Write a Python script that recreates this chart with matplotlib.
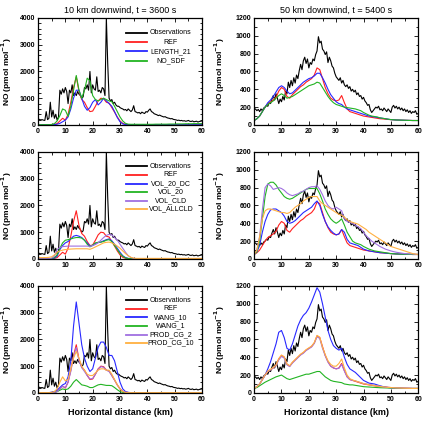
import numpy as np
from matplotlib import pyplot as plt
from matplotlib.ticker import MultipleLocator

plt.rcParams['font.family'] = ['Liberation Sans', 'DejaVu Sans']

# eje x de las observaciones (cada 0.5 km) y de los modelos (cada 1 km)
x_obs = np.arange(0, 60.5, 0.5)
x_mod = np.arange(0, 61)

obs_10km = [
    200, 210, 190, 200, 180, 170, 500, 200, 250, 850,
    300, 550, 250, 400, 180, 300, 1300, 1150, 1350, 1200,
    1400, 1250, 800, 1300, 1200, 1500, 1100, 1200, 1100, 1250,
    1150, 1100, 1000, 1050, 1400, 1350, 1500, 1300, 2000, 1200,
    1500, 1350, 1300, 1800, 1250, 1300, 1200, 1400, 1350, 1100,
    4000, 2300, 1000, 900, 950, 800, 850, 750, 700, 700,
    650, 620, 600, 560, 580, 530, 600, 550, 500, 560,
    720, 500, 480, 450, 470, 420, 480, 450, 430, 500,
    480, 550, 600, 500, 470, 420, 400, 380, 350, 370,
    340, 320, 300, 310, 280, 260, 250, 230, 240, 210,
    200, 190, 170, 180, 160, 170, 150, 160, 140, 150,
    170, 140, 130, 150, 120, 130, 140, 110, 130, 140,
    150]

obs_50km = [
    170, 180, 160, 175, 150, 180, 160, 190, 200, 220,
    210, 250, 240, 290, 330, 280, 350, 300, 240, 290,
    260, 320, 280, 380, 350, 480, 420, 500, 440, 530,
    470, 560, 520, 610, 680, 620, 720, 760, 690, 740,
    640, 700, 680, 740, 720, 790, 830, 990, 920, 940,
    850, 830, 790, 820, 700, 760, 720, 660, 640, 580,
    540, 520, 500, 530, 470, 500, 450, 430, 450, 410,
    430, 380, 400, 370, 390, 340, 360, 320, 330, 290,
    310, 270, 250, 220, 230, 170, 140, 160, 180, 200,
    190, 210, 170, 180, 160, 190, 170, 150, 180, 160,
    140, 200, 220, 190, 210, 180, 200, 170, 190, 160,
    180, 150, 170, 140, 160, 130, 150, 140, 160, 120,
    130]

# ---- 10 km, fila 1
ref_10 = [
    10, 10, 10, 10, 10, 15, 20, 50, 150, 250,
    180, 400, 850, 1400, 1800, 1250, 950, 850, 650, 500,
    520, 700, 900, 1000, 980, 850, 820, 650, 480, 300,
    150, 60, 25, 15, 10, 10, 10, 10, 10, 10,
    10, 10, 10, 10, 10, 10, 10, 10, 10, 10,
    10, 10, 10, 10, 10, 10, 10, 10, 10, 10, 10]
length21_10 = [
    10, 10, 10, 10, 10, 10, 15, 30, 60, 120,
    180, 300, 600, 1000, 1300, 1300, 1000, 700, 550, 650,
    850, 950, 750, 850, 1000, 900, 800, 700, 500, 280,
    120, 40, 15, 10, 10, 10, 10, 10, 10, 10,
    10, 10, 10, 10, 10, 10, 10, 10, 10, 10,
    10, 10, 10, 10, 10, 10, 10, 10, 10, 10, 10]
nosdf_10 = [
    10, 10, 10, 10, 10, 20, 50, 150, 350, 600,
    550, 320, 700, 1300, 1850, 1300, 1000, 1300, 1750, 1650,
    1100, 950, 900, 950, 1000, 950, 900, 870, 700, 500,
    300, 150, 60, 30, 25, 25, 25, 25, 25, 25,
    25, 25, 25, 30, 30, 30, 30, 30, 35, 35,
    35, 40, 40, 40, 45, 45, 45, 50, 50, 50, 50]

# ---- 10 km, fila 2
vol20dc_10 = [
    10, 10, 10, 10, 10, 10, 30, 100, 350, 500,
    600, 650, 750, 850, 880, 850, 800, 700, 600, 480,
    500, 580, 620, 630, 680, 720, 750, 680, 550, 400,
    250, 120, 50, 20, 10, 10, 10, 10, 10, 10,
    10, 10, 10, 10, 10, 10, 10, 10, 10, 10,
    10, 10, 10, 10, 10, 10, 10, 10, 10, 10, 10]
vol20_10 = [
    10, 10, 10, 10, 10, 20, 50, 150, 400, 600,
    700, 720, 750, 780, 800, 800, 780, 700, 550, 450,
    520, 600, 620, 630, 650, 700, 720, 650, 500, 350,
    200, 100, 40, 15, 10, 10, 10, 10, 10, 10,
    10, 10, 10, 10, 10, 10, 10, 10, 10, 10,
    10, 10, 10, 10, 10, 10, 10, 10, 10, 10, 10]
volcld_10 = [
    10, 10, 10, 10, 10, 30, 100, 350, 430, 460,
    470, 480, 480, 480, 480, 480, 480, 480, 480, 470,
    500, 540, 600, 700, 800, 880, 920, 900, 800, 700,
    550, 400, 250, 120, 50, 20, 10, 10, 10, 10,
    10, 10, 10, 10, 10, 10, 10, 10, 10, 10,
    10, 10, 10, 10, 10, 10, 10, 10, 10, 10, 10]
volallcld_10 = [
    50, 50, 50, 50, 60, 80, 150, 250, 300, 330,
    350, 360, 370, 375, 380, 380, 380, 380, 380, 360,
    400, 450, 500, 550, 600, 620, 630, 600, 550, 480,
    400, 300, 200, 120, 60, 30, 20, 20, 20, 20,
    20, 20, 20, 20, 20, 20, 20, 20, 20, 20,
    20, 20, 20, 20, 20, 20, 20, 20, 20, 20, 20]

# ---- 10 km, fila 3
wang10_10 = [
    10, 10, 10, 10, 10, 30, 50, 100, 200, 300,
    350, 600, 1200, 2500, 3400, 2600, 1800, 1300, 1000, 800,
    900, 1300, 1700, 1900, 1900, 1700, 1400, 1400, 1200, 800,
    400, 150, 50, 20, 10, 10, 10, 10, 10, 10,
    10, 10, 10, 10, 10, 10, 10, 10, 10, 10,
    10, 10, 10, 10, 10, 10, 10, 10, 10, 10, 10]
wang1_10 = [
    10, 10, 10, 10, 10, 10, 20, 50, 100, 150,
    120, 150, 250, 400, 500, 400, 300, 280, 250, 200,
    200, 250, 300, 320, 300, 280, 280, 270, 200, 120,
    50, 20, 10, 10, 10, 10, 10, 10, 10, 10,
    10, 10, 10, 10, 10, 10, 10, 10, 10, 10,
    10, 10, 10, 10, 10, 10, 10, 10, 10, 10, 10]
prodcg2_10 = [
    10, 10, 10, 10, 10, 15, 20, 50, 150, 250,
    200, 400, 800, 1350, 1700, 1200, 950, 800, 650, 520,
    540, 700, 880, 980, 960, 850, 800, 650, 480, 300,
    150, 60, 25, 15, 10, 10, 10, 10, 10, 10,
    10, 10, 10, 10, 10, 10, 10, 10, 10, 10,
    10, 10, 10, 10, 10, 10, 10, 10, 10, 10, 10]
prodcg10_10 = [
    10, 10, 10, 10, 10, 20, 50, 150, 400, 600,
    450, 500, 900, 1300, 1550, 1300, 1000, 850, 700, 650,
    650, 750, 850, 900, 900, 850, 850, 700, 500, 300,
    150, 50, 20, 10, 10, 10, 10, 10, 10, 10,
    10, 10, 10, 10, 10, 10, 10, 10, 10, 10,
    10, 10, 10, 10, 10, 10, 10, 10, 10, 10, 10]

# ---- 50 km
ref_50 = [
    50, 70, 100, 150, 200, 240, 260, 280, 310, 380,
    420, 400, 320, 300, 340, 370, 400, 430, 450, 480,
    500, 520, 560, 640, 620, 520, 420, 350, 300, 280,
    270, 280, 330, 250, 180, 150, 140, 130, 120, 110,
    100, 95, 90, 85, 80, 75, 70, 68, 65, 62,
    60, 58, 56, 55, 54, 53, 52, 51, 50, 50, 50]
length21_50 = [
    50, 70, 100, 150, 200, 250, 280, 320, 370, 420,
    440, 420, 380, 350, 360, 390, 420, 450, 480, 500,
    520, 530, 550, 580, 580, 530, 470, 400, 340, 300,
    260, 240, 230, 200, 180, 170, 160, 150, 140, 130,
    120, 110, 100, 95, 90, 85, 80, 75, 70, 65,
    60, 58, 56, 55, 54, 53, 52, 51, 50, 50, 50]
nosdf_50 = [
    50, 70, 100, 150, 200, 230, 250, 270, 300, 330,
    350, 330, 300, 310, 320, 340, 360, 380, 400, 420,
    440, 450, 460, 480, 470, 420, 370, 320, 280, 250,
    230, 220, 210, 200, 195, 190, 185, 180, 170, 160,
    140, 125, 110, 100, 95, 90, 80, 75, 70, 65,
    60, 58, 56, 55, 54, 53, 52, 51, 50, 50, 50]
vol20dc_50 = [
    50, 80, 150, 300, 420, 500, 550, 560, 560, 540,
    520, 480, 420, 400, 410, 430, 460, 490, 520, 540,
    560, 580, 620, 650, 600, 500, 420, 360, 320, 290,
    270, 280, 330, 300, 220, 180, 170, 160, 150, 130,
    110, 100, 90, 85, 80, 75, 70, 68, 65, 62,
    60, 58, 56, 55, 54, 53, 52, 51, 50, 50, 50]
vol20_50 = [
    50, 80, 200, 450, 700, 840, 860, 860, 830, 780,
    740, 700, 680, 670, 680, 700, 720, 740, 760, 780,
    790, 790, 790, 790, 730, 650, 560, 500, 450, 420,
    400, 420, 450, 380, 300, 250, 200, 180, 170, 160,
    140, 125, 110, 100, 90, 85, 80, 75, 70, 65,
    60, 58, 56, 55, 54, 53, 52, 51, 50, 50, 50]
volcld_50 = [
    50, 100, 250, 550, 800, 840, 820, 780, 790, 800,
    790, 770, 740, 720, 710, 720, 730, 750, 760, 780,
    800, 810, 810, 820, 780, 720, 650, 600, 570, 560,
    580, 560, 540, 450, 420, 410, 400, 380, 360, 340,
    300, 260, 230, 200, 180, 160, 140, 125, 110, 100,
    90, 82, 75, 70, 65, 60, 58, 56, 55, 52, 50]
volallcld_50 = [
    50, 100, 250, 450, 540, 560, 560, 550, 540, 530,
    520, 520, 510, 520, 550, 580, 600, 620, 650, 670,
    690, 700, 700, 700, 650, 620, 600, 580, 560, 540,
    520, 500, 490, 470, 440, 420, 410, 400, 390, 370,
    350, 330, 300, 280, 260, 240, 220, 200, 180, 160,
    140, 130, 120, 110, 100, 90, 80, 70, 60, 55, 50]
wang10_50 = [
    50, 70, 100, 150, 200, 270, 350, 450, 550, 680,
    700, 620, 500, 480, 550, 650, 750, 820, 870, 900,
    950, 1020, 1100, 1180, 1130, 1000, 850, 700, 600, 530,
    500, 480, 500, 400, 320, 270, 250, 230, 200, 170,
    140, 125, 110, 105, 100, 90, 80, 72, 65, 60,
    55, 53, 52, 51, 50, 50, 50, 50, 50, 50, 50]
wang1_50 = [
    50, 60, 80, 100, 120, 135, 150, 165, 180, 190,
    200, 180, 160, 150, 160, 170, 180, 190, 200, 210,
    210, 220, 230, 240, 240, 210, 180, 160, 140, 130,
    125, 120, 115, 100, 95, 90, 90, 85, 80, 75,
    70, 68, 66, 64, 62, 60, 58, 57, 56, 55,
    55, 54, 53, 52, 51, 50, 50, 50, 50, 50, 50]
prodcg2_50 = [
    50, 70, 100, 150, 200, 240, 260, 280, 310, 370,
    410, 390, 315, 295, 335, 365, 395, 425, 445, 475,
    495, 515, 555, 630, 610, 500, 415, 345, 300, 280,
    270, 275, 320, 245, 180, 150, 140, 135, 125, 115,
    105, 100, 95, 90, 85, 80, 75, 70, 65, 62,
    60, 58, 56, 55, 54, 53, 52, 51, 50, 50, 50]
prodcg10_50 = [
    50, 70, 100, 150, 200, 245, 265, 285, 315, 385,
    425, 405, 325, 305, 345, 375, 405, 435, 455, 485,
    505, 525, 565, 645, 625, 510, 430, 360, 320, 300,
    300, 330, 380, 280, 200, 160, 145, 135, 125, 115,
    105, 98, 92, 87, 82, 77, 72, 68, 65, 62,
    60, 58, 56, 55, 54, 53, 52, 51, 50, 50, 50]

ROJO = '#ff2020'
AZUL = '#2828ff'
VERDE = '#22b422'
VIOLETA = '#a070e0'
NARANJA = '#ffb040'


def formato(ax, ymax, ymayor, yminor, xlabel, ylab_x):
    ax.set_xlim(0, 60)
    ax.set_ylim(0, ymax)
    ax.xaxis.set_major_locator(MultipleLocator(10))
    ax.xaxis.set_minor_locator(MultipleLocator(5))
    ax.yaxis.set_major_locator(MultipleLocator(ymayor))
    ax.yaxis.set_minor_locator(MultipleLocator(yminor))
    ax.tick_params(which='both', direction='in', top=True, right=True,
                   labelsize=5, width=0.6, pad=2)
    ax.tick_params(which='major', length=3)
    ax.tick_params(which='minor', length=1.8)
    for lab in ax.get_xticklabels() + ax.get_yticklabels():
        lab.set_fontweight('bold')
    for s in ax.spines.values():
        s.set_linewidth(0.9)
    ax.set_ylabel('NO (pmol mol$^{\\mathbf{-1}}$)', fontsize=6, fontweight='bold')
    ax.yaxis.set_label_coords(ylab_x, 0.5)
    if xlabel:
        ax.set_xlabel('Horizontal distance (km)', fontsize=6.5, fontweight='bold')
        ax.xaxis.set_label_coords(0.5, -0.14)


def leyenda(ax, etiquetas, colores, y0, paso):
    for i, (et, c) in enumerate(zip(etiquetas, colores)):
        y = y0 - i * paso
        ax.plot([0.537, 0.665], [y, y], color=c, lw=1.3, transform=ax.transAxes)
        ax.text(0.81, y, et, fontsize=5, ha='center', va='center',
                transform=ax.transAxes)


def main():
    fig = plt.figure(figsize=(4.25, 4.28), dpi=100)
    izq, der, ancho, alto = 0.0894, 0.598, 0.386, 0.25
    filas = [0.708, 0.395, 0.082]
    axs = [[fig.add_axes([izq, f, ancho, alto]), fig.add_axes([der, f, ancho, alto])]
           for f in filas]

    series_izq = [
        [(ref_10, ROJO), (length21_10, AZUL), (nosdf_10, VERDE)],
        [(ref_10, ROJO), (vol20dc_10, AZUL), (vol20_10, VERDE),
         (volcld_10, VIOLETA), (volallcld_10, NARANJA)],
        [(ref_10, ROJO), (wang10_10, AZUL), (wang1_10, VERDE),
         (prodcg2_10, VIOLETA), (prodcg10_10, NARANJA)],
    ]
    series_der = [
        [(ref_50, ROJO), (length21_50, AZUL), (nosdf_50, VERDE)],
        [(ref_50, ROJO), (vol20dc_50, AZUL), (vol20_50, VERDE),
         (volcld_50, VIOLETA), (volallcld_50, NARANJA)],
        [(ref_50, ROJO), (wang10_50, AZUL), (wang1_50, VERDE),
         (prodcg2_50, VIOLETA), (prodcg10_50, NARANJA)],
    ]
    etiquetas = [
        ['Observations', 'REF', 'LENGTH_21', 'NO_SDF'],
        ['Observations', 'REF', 'VOL_20_DC', 'VOL_20', 'VOL_CLD', 'VOL_ALLCLD'],
        ['Observations', 'REF', 'WANG_10', 'WANG_1', 'PROD_CG_2', 'PROD_CG_10'],
    ]

    for i in range(3):
        ax_l, ax_r = axs[i]
        ax_l.plot(x_obs, obs_10km, color='black', lw=0.8)
        for datos, c in series_izq[i]:
            ax_l.plot(x_mod, datos, color=c, lw=0.8)
        ax_r.plot(x_obs, obs_50km, color='black', lw=0.8)
        for datos, c in series_der[i]:
            ax_r.plot(x_mod, datos, color=c, lw=0.8)
        formato(ax_l, 4000, 1000, 200, i == 2, -0.145)
        formato(ax_r, 1200, 200, 100, i == 2, -0.165)
        colores = ['black'] + [c for _, c in series_izq[i]]
        if i == 0:
            leyenda(ax_l, etiquetas[i], colores, 0.863, 0.088)
        else:
            leyenda(ax_l, etiquetas[i], colores, 0.865, 0.08)

    axs[0][0].set_title('10 km downwind, t = 3600 s', fontsize=6.5, pad=4)
    axs[0][1].set_title('50 km downwind, t = 5400 s', fontsize=6.5, pad=4)

    fig.savefig('out.png', dpi=100)


if __name__ == '__main__':
    main()
